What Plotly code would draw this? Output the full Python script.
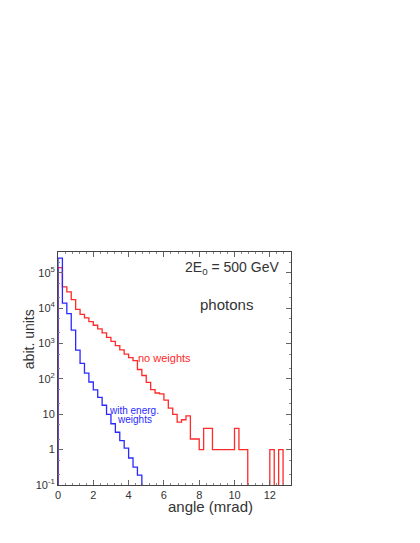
import numpy as np
import plotly.graph_objects as go

# histogram bins: 0.25 mrad wide, starting at 0
bin_width = 0.25
no_weights = [1.4e5, 4.0e4, 2.9e4, 1.75e4, 9.3e3, 6.7e3, 5.3e3, 4.2e3, 3.3e3, 2.6e3,
              2.0e3, 1.5e3, 1.15e3, 870, 660, 500, 400, 330, 185, 125,
              80, 50, 40, 38, 25, 15, 10, 6, 7, 9,
              2, 2, 1, 4, 4, 1, 1, 1, 1, 1,
              4, 1, 1, 0, 0, 0, 0, 0, 1, 0,
              1, 0, 0]
with_weights = [2.6e5, 1.4e4, 7.0e3, 2.4e3, 650, 275, 145, 82, 49, 30,
                18, 10, 5.4, 3.1, 1.8, 1.1, 0.58, 0.32, 0.19, 0]

y_tickvals = [0.1, 1, 10, 100, 1000, 1e4, 1e5]
y_ticktext = ["10<sup>-1</sup>", "1", "10", "10<sup>2</sup>", "10<sup>3</sup>",
              "10<sup>4</sup>", "10<sup>5</sup>"]
x_tickvals = [0, 2, 4, 6, 8, 10, 12]

FLOOR = 1e-3  # empty bins drawn below the axis


def step_xy(values):
    vals = [v if v > 0 else FLOOR for v in values]
    edges = np.arange(len(vals) + 1) * bin_width
    x = [0] + list(edges)
    y = [FLOOR] + vals + [vals[-1]]
    return x, y


fig = go.Figure()
xr, yr = step_xy(no_weights)
fig.add_trace(go.Scatter(x=xr, y=yr, mode="lines", line={"color": "#ff2a2a", "width": 1.3, "shape": "hv"},
                         showlegend=False))
xb, yb = step_xy(with_weights)
fig.add_trace(go.Scatter(x=xb, y=yb, mode="lines", line={"color": "#2a2aff", "width": 1.3, "shape": "hv"},
                         showlegend=False))

font = "Liberation Sans, Arial, sans-serif"


def label(text, x, y, color="#333", size=14, data=False, angle=0):
    fig.add_annotation(xref="x" if data else "paper", yref="y" if data else "paper",
                       x=x, y=y, text=text, textangle=angle,
                       showarrow=False, xanchor="center", yanchor="middle",
                       font={"color": color, "size": size, "family": font})


# y positions of data labels are log10 values (log axis)
label("no weights", 6.04, 2.6, "#ff2a2a", 11, data=True)
label("with energ.", 4.33, 1.1, "#2a2aff", 10, data=True)
label("weights", 4.36, 0.86, "#2a2aff", 10, data=True)
label("2E<sub>0</sub> = 500 GeV", 0.746, 0.93)
label("photons", 0.725, 0.774, size=15)
label("angle (mrad)", 0.654, -0.092, size=15)
label("abit. units", -0.121, 0.625, angle=-90)

axis_common = {"showline": True, "linecolor": "#444", "linewidth": 1, "mirror": "ticks",
               "ticks": "inside", "ticklen": 5, "tickcolor": "#666", "showgrid": False,
               "zeroline": False, "tickfont": {"size": 11, "color": "#333", "family": font}}
fig.update_xaxes(range=[0, 13.2], tickvals=x_tickvals,
                 minor={"dtick": 0.4, "ticks": "inside", "ticklen": 2, "tickcolor": "#888"},
                 **axis_common)
fig.update_yaxes(type="log", range=[-1, 5.59], tickvals=y_tickvals, ticktext=y_ticktext,
                 minor={"ticks": "inside", "ticklen": 2, "tickcolor": "#888"},
                 **axis_common)
# page body adds an 8px offset, so the figure is a bit smaller than the window
fig.update_layout(width=412, height=535, plot_bgcolor="white", paper_bgcolor="white",
                  margin={"l": 50, "r": 128.6, "t": 244, "b": 58.4}, showlegend=False)
fig.write_html("out.html")
